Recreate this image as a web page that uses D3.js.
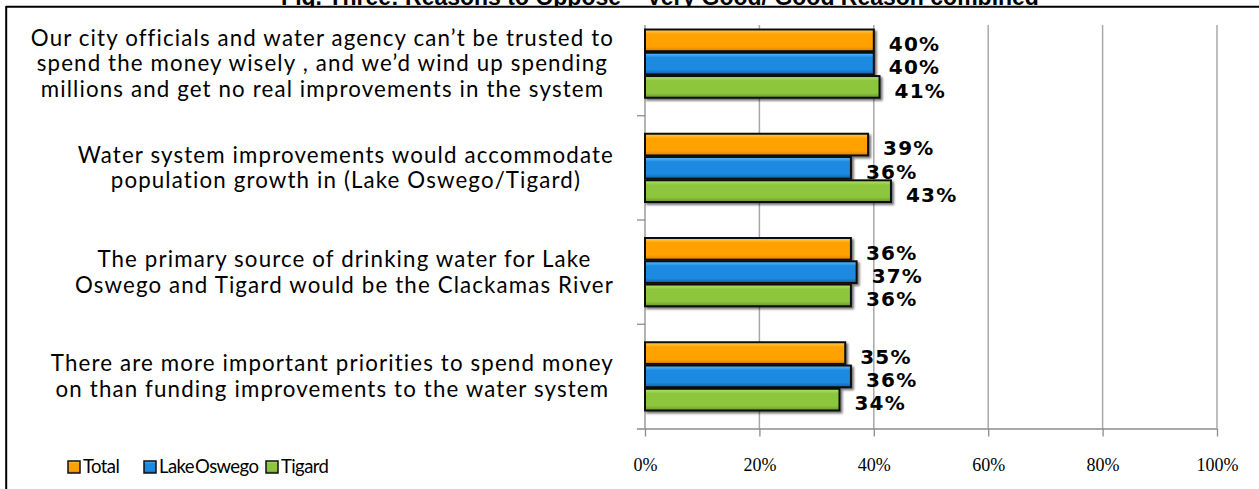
<!DOCTYPE html>
<html><head><meta charset="utf-8">
<script src="https://cdn.jsdelivr.net/npm/d3@7"></script>
<style>
html,body{margin:0;padding:0;background:#fff;overflow:hidden}
svg{display:block}
</style></head>
<body><svg id="c" width="1259" height="489"></svg>
<script>
const title = "Fig. Three: Reasons to Oppose \u2013 Very Good/ Good Reason combined";
const categories = [
  ["Our city officials and water agency can\u2019t be trusted to", "spend the money wisely , and we\u2019d wind up spending", "millions and get no real improvements in the system"],
  ["Water system improvements would accommodate", "population growth in (Lake Oswego/Tigard)"],
  ["The primary source of drinking water for Lake", "Oswego and Tigard would be the Clackamas River"],
  ["There are more important priorities to spend money", "on than funding improvements to the water system"]
];
const seriesNames = ["Total", "Lake Oswego", "Tigard"];
const totalValues = [40, 39, 36, 35];
const lakeOswegoValues = [40, 36, 37, 36];
const tigardValues = [41, 43, 36, 34];
const xTicks = [0, 20, 40, 60, 80, 100];
const xTickLabels = ["0%", "20%", "40%", "60%", "80%", "100%"];

const seriesValues = [totalValues, lakeOswegoValues, tigardValues];
const palette = [
  {light:"#ffcf55", base:"#ffa200", dark:"#d98200"},
  {light:"#5cc0ff", base:"#1c8ae0", dark:"#0f5fa8"},
  {light:"#b8e66a", base:"#8cc63e", dark:"#64952a"}
];

const svg = d3.select("#c");
const defs = svg.append("defs");
palette.forEach((p,i)=>{
  const g = defs.append("linearGradient").attr("id","g"+i).attr("x1",0).attr("y1",0).attr("x2",0).attr("y2",1);
  g.append("stop").attr("offset","0%").attr("stop-color",p.light);
  g.append("stop").attr("offset","22%").attr("stop-color",p.base);
  g.append("stop").attr("offset","78%").attr("stop-color",p.base);
  g.append("stop").attr("offset","100%").attr("stop-color",p.dark);
});
const f = defs.append("filter").attr("id","sh").attr("x","-5%").attr("y","-20%").attr("width","115%").attr("height","160%");
f.append("feDropShadow").attr("dx",2).attr("dy",2).attr("stdDeviation",1.2).attr("flood-color","#000").attr("flood-opacity",0.55);

const X0 = 645, X1 = 1217, YTOP = 11.5, YBOT = 428.5, GRIDTOP = 25;
const x = d3.scaleLinear().domain([0,100]).range([X0,X1]);
const y = d3.scaleBand().domain(d3.range(categories.length)).range([YTOP,YBOT]).paddingInner(0.33).paddingOuter(0.165);
const ys = d3.scaleBand().domain(d3.range(seriesNames.length)).range([0,y.bandwidth()]);

// title (cut off at top)
svg.append("text").attr("x",660).attr("y",5).attr("text-anchor","middle")
  .attr("font-family","Liberation Sans, Arial, sans-serif").attr("font-weight","bold").attr("font-size",23)
  .text(title);

// frame
svg.append("rect").attr("x",0).attr("y",6).attr("width",1259).attr("height",483).attr("fill","#fff");
svg.append("line").attr("x1",6).attr("x2",1259).attr("y1",6.8).attr("y2",6.8).attr("stroke","#000").attr("stroke-width",2);
svg.append("line").attr("x1",6.2).attr("x2",6.2).attr("y1",6).attr("y2",489).attr("stroke","#000").attr("stroke-width",2);

// gridlines
svg.append("g").selectAll("line").data(xTicks.slice(1)).join("line")
  .attr("x1",d=>x(d)).attr("x2",d=>x(d)).attr("y1",GRIDTOP).attr("y2",YBOT)
  .attr("stroke","#a8a8a8").attr("stroke-width",1.5);

// x axis
const xAxis = d3.axisBottom(x).tickValues(xTicks).tickFormat((d,i)=>xTickLabels[i]).tickSize(8).tickPadding(22);
const gx = svg.append("g").attr("transform",`translate(0,${YBOT})`).call(xAxis);
gx.select(".domain").attr("stroke","#8c8c8c").attr("stroke-width",1.3).attr("d",`M${X0-8},0.5H${X1}`);
gx.selectAll(".tick line").attr("stroke","#8c8c8c").attr("stroke-width",1.3);
gx.selectAll(".tick text").attr("font-family","Liberation Serif, Times New Roman, serif").attr("font-size",18).attr("fill","#000");

// y axis line and ticks
svg.append("line").attr("x1",X0).attr("x2",X0).attr("y1",GRIDTOP).attr("y2",YBOT).attr("stroke","#8c8c8c").attr("stroke-width",1.3);
const step = y.step();
const bounds = d3.range(1,categories.length).map(i=>y(i) - (step - y.bandwidth())/2);
svg.append("g").selectAll("line").data(bounds).join("line")
  .attr("x1",X0-8).attr("x2",X0).attr("y1",d=>d).attr("y2",d=>d).attr("stroke","#8c8c8c").attr("stroke-width",1.3);

// bars
const groups = svg.append("g").selectAll("g").data(categories).join("g")
  .attr("transform",(d,i)=>`translate(0,${y(i)})`);
seriesNames.forEach((s,si)=>{
  groups.append("rect")
    .attr("x",X0).attr("y",ys(si)+0.8)
    .attr("width",(d,i)=>x(seriesValues[si][i])-X0).attr("height",ys.bandwidth()-1.6)
    .attr("fill",`url(#g${si})`).attr("stroke","#111").attr("stroke-width",2)
    .attr("filter","url(#sh)");
});
seriesNames.forEach((s,si)=>{
  groups.append("text")
    .attr("x",(d,i)=>x(seriesValues[si][i])+15)
    .attr("y",ys(si)+ys.bandwidth()/2+3.5).attr("dy","0.36em")
    .attr("font-family","DejaVu Sans, Verdana, sans-serif").attr("font-weight","bold").attr("font-size",20)
    .attr("letter-spacing",1.2).attr("fill","#000")
    .text((d,i)=>seriesValues[si][i]+"%");
});

// category labels: block right-aligned at 614, lines centered within block
const lineH = 25.5;
const catGroups = categories.map((lines,i)=>{
  const cy = y(i) + y.bandwidth()/2;
  const g = svg.append("g");
  const t = g.selectAll("text").data(lines).join("text")
    .attr("y",(d,j)=>cy + (j-(lines.length-1)/2)*lineH).attr("dy","0.35em")
    .attr("font-family","Lato, sans-serif").attr("font-size",22.3).attr("fill","#000")
    .attr("text-anchor","middle").text(d=>d);
  return t;
});
let widest = 0, widestLen = 1;
catGroups.forEach(t=>t.each(function(d){ const w=this.getComputedTextLength(); if(w>widest){widest=w;widestLen=d.length;} }));
const ls = Math.max(0, (582 - widest) / widestLen);
catGroups.forEach(t=>{
  t.attr("letter-spacing",ls);
  let maxW = 0;
  t.each(function(){ maxW = Math.max(maxW, this.getComputedTextLength()); });
  t.attr("x", 614 - maxW/2);
});

// legend
const lx = [68, 144, 266];
const lg = svg.append("g").selectAll("g").data(seriesNames).join("g")
  .attr("transform",(d,i)=>`translate(${lx[i]},467)`);
lg.append("rect").attr("x",0).attr("y",-6).attr("width",12).attr("height",12)
  .attr("fill",(d,i)=>`url(#g${i})`).attr("stroke","#111").attr("stroke-width",1.5);
lg.append("text").attr("x",15).attr("dy","0.35em").attr("word-spacing",-3).attr("letter-spacing",-0.6)
  .attr("font-family","Lato, sans-serif").attr("font-size",18.5).attr("fill","#000").text(d=>d);
</script></body></html>
